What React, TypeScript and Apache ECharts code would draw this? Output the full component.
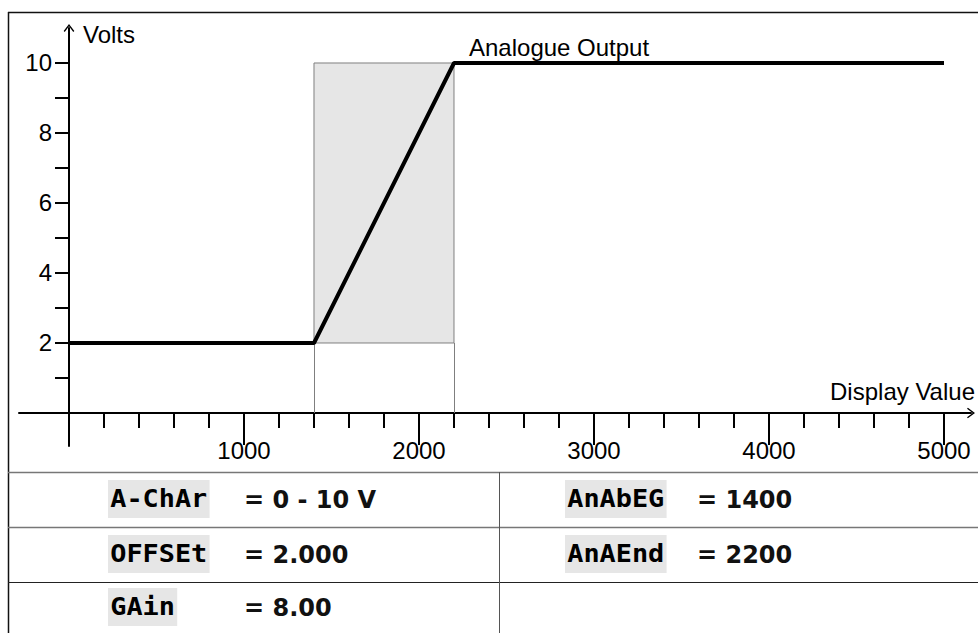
import React, { useEffect, useRef } from "react";
import * as echarts from "echarts";

// ---- data ----
const curveX = [0, 1400, 2200, 5000];
const curveY = [2, 2, 10, 10];
const rangeStart = 1400;
const rangeEnd = 2200;
const offsetVolts = 2;
const fullVolts = 10;
const yTickValues = [1, 2, 3, 4, 5, 6, 7, 8, 9, 10];
const yLabelValues = [2, 4, 6, 8, 10];
const xMinorTicks = [200, 400, 600, 800, 1000, 1200, 1400, 1600, 1800, 2000, 2200, 2400, 2600, 2800, 3000, 3200, 3400, 3600, 3800, 4000, 4200, 4400, 4600, 4800, 5000];
const xMajorTicks = [1000, 2000, 3000, 4000, 5000];
const seriesName = "Analogue Output";
const yTitle = "Volts";
const xTitle = "Display Value";
const paramLeftNames = ["A-ChAr", "OFFSEt", "GAin"];
const paramLeftValues = ["= 0 - 10 V", "= 2.000", "= 8.00"];
const paramRightNames = ["AnAbEG", "AnAEnd"];
const paramRightValues = ["= 1400", "= 2200"];

const FONT = '"Liberation Sans", Arial, sans-serif';
const FS = 24;
const arrowPath = "path://M0,0 L6,8 L4.8,9 L0,2.6 L-4.8,9 L-6,8 Z";

export default function App() {
  const ref = useRef<HTMLDivElement>(null);
  useEffect(() => {
    if (!ref.current) return;
    const chart = echarts.init(ref.current, undefined, { renderer: "svg" });

    const rowCenters = [499, 554, 607];
    const g: any[] = [];
    g.push(
      { type: "line", shape: { x1: 8, y1: 12.5, x2: 978, y2: 12.5 }, style: { stroke: "#111", lineWidth: 1.5 } },
      { type: "line", shape: { x1: 8.5, y1: 12, x2: 8.5, y2: 633 }, style: { stroke: "#111", lineWidth: 1.5 } },
      { type: "line", shape: { x1: 8, y1: 472.5, x2: 978, y2: 472.5 }, style: { stroke: "#777", lineWidth: 1.5 } },
      { type: "line", shape: { x1: 8, y1: 527.5, x2: 978, y2: 527.5 }, style: { stroke: "#777", lineWidth: 1.5 } },
      { type: "line", shape: { x1: 8, y1: 582.5, x2: 978, y2: 582.5 }, style: { stroke: "#222", lineWidth: 1 } },
      { type: "line", shape: { x1: 499.5, y1: 472, x2: 499.5, y2: 633 }, style: { stroke: "#555", lineWidth: 1 } }
    );
    const addParam = (name: string, value: string, x: number, vx: number, y: number) => {
      g.push({
        type: "text",
        x,
        y,
        scaleX: 1.12,
        style: {
          text: name,
          font: 'bold 24px "DejaVu Sans Mono", monospace',
          fill: "#000",
          backgroundColor: "#e6e6e6",
          padding: [7, 2, 7, 2],
          align: "left",
          verticalAlign: "middle",
        },
      });
      g.push({
        type: "text",
        x: vx,
        y: y + 1,
        style: {
          text: value,
          font: 'bold 24px "DejaVu Sans", sans-serif',
          fill: "#111",
          align: "left",
          verticalAlign: "middle",
        },
      });
    };
    paramLeftNames.forEach((n, i) => addParam(n, paramLeftValues[i], 108, 244, rowCenters[i]));
    paramRightNames.forEach((n, i) => addParam(n, paramRightValues[i], 565, 697, rowCenters[i]));
    g.push({
      type: "text",
      x: 83,
      y: 34,
      style: { text: yTitle, font: `${FS}px ${FONT}`, fill: "#000", align: "left", verticalAlign: "middle" },
    });

    const lineData = curveX.map((x, i) =>
      i === 2
        ? {
            value: [x, curveY[i]],
            symbolSize: 0,
            label: {
              show: true,
              formatter: seriesName,
              position: [15, -15],
              align: "left",
              verticalAlign: "middle",
              fontFamily: FONT,
              fontSize: FS,
              color: "#000",
            },
          }
        : { value: [x, curveY[i]], symbolSize: 0 }
    );

    const xMin = -285.7;
    const xMax = 5154.3;
    const yMin = -0.943;
    const yMax = 11.0;
    const fmt = (v: number) => String(v);

    chart.setOption({
      animation: false,
      grid: { left: 19, right: 7, top: 28, bottom: 187, containLabel: false, outerBoundsMode: "none" },
      xAxis: [
        {
          type: "value",
          position: "bottom",
          min: xMin,
          max: xMax,
          name: xTitle,
          nameLocation: "end",
          nameGap: 0,
          nameTextStyle: {
            fontFamily: FONT,
            fontSize: FS,
            color: "#000",
            align: "right",
            verticalAlign: "bottom",
            padding: [0, -4, 10, 0],
          },
          axisLine: {
            show: true,
            onZero: false,
            symbol: ["none", arrowPath],
            symbolSize: [12, 8],
            lineStyle: { color: "#000", width: 2 },
          },
          offset: -33,
          axisTick: { show: true, customValues: xMinorTicks, length: 15, lineStyle: { color: "#000", width: 2 } },
          axisLabel: { show: false },
          splitLine: { show: false },
        },
        {
          type: "value",
          position: "bottom",
          min: xMin,
          max: xMax,
          offset: -33,
          axisLine: { show: true, onZero: false, lineStyle: { color: "#000", width: 0, opacity: 0 } },
          axisTick: { show: true, customValues: xMajorTicks, length: 32, lineStyle: { color: "#000", width: 2 } },
          axisLabel: {
            show: true,
            customValues: xMajorTicks,
            formatter: fmt,
            margin: 25,
            fontFamily: FONT,
            fontSize: FS,
            color: "#000",
          },
          splitLine: { show: false },
        },
      ],
      yAxis: {
        type: "value",
        position: "left",
        min: yMin,
        max: yMax,
        offset: -50,
        axisLine: {
          show: true,
          onZero: false,
          symbol: ["none", arrowPath],
          symbolSize: [12, 8],
          lineStyle: { color: "#000", width: 2 },
        },
        axisTick: { show: true, customValues: yTickValues, length: 14, lineStyle: { color: "#000", width: 2 } },
        axisLabel: {
          show: true,
          customValues: yLabelValues,
          formatter: fmt,
          margin: 17,
          fontFamily: FONT,
          fontSize: FS,
          color: "#000",
        },
        splitLine: { show: false },
      },
      graphic: g,
      series: [
        {
          name: seriesName,
          type: "line",
          xAxisIndex: 0,
          yAxisIndex: 0,
          data: lineData,
          symbol: "circle",
          showSymbol: true,
          lineStyle: { color: "#000", width: 4 },
          itemStyle: { color: "#000" },
          z: 5,
          markArea: {
            silent: true,
            itemStyle: { color: "#e6e6e6", borderColor: "#7f7f7f", borderWidth: 1 },
            data: [[{ coord: [rangeStart, offsetVolts] }, { coord: [rangeEnd, fullVolts] }]],
          },
          markLine: {
            silent: true,
            symbol: ["none", "none"],
            label: { show: false },
            lineStyle: { color: "#7f7f7f", width: 1, type: "solid" },
            data: [
              [{ coord: [rangeStart, 0] }, { coord: [rangeStart, offsetVolts] }],
              [{ coord: [rangeEnd, 0] }, { coord: [rangeEnd, offsetVolts] }],
            ],
          },
        },
      ],
    });
    return () => chart.dispose();
  }, []);
  return (
    <div
      ref={ref}
      style={{ position: "absolute", left: 0, top: 0, width: 978, height: 633, background: "#fff" }}
    />
  );
}
